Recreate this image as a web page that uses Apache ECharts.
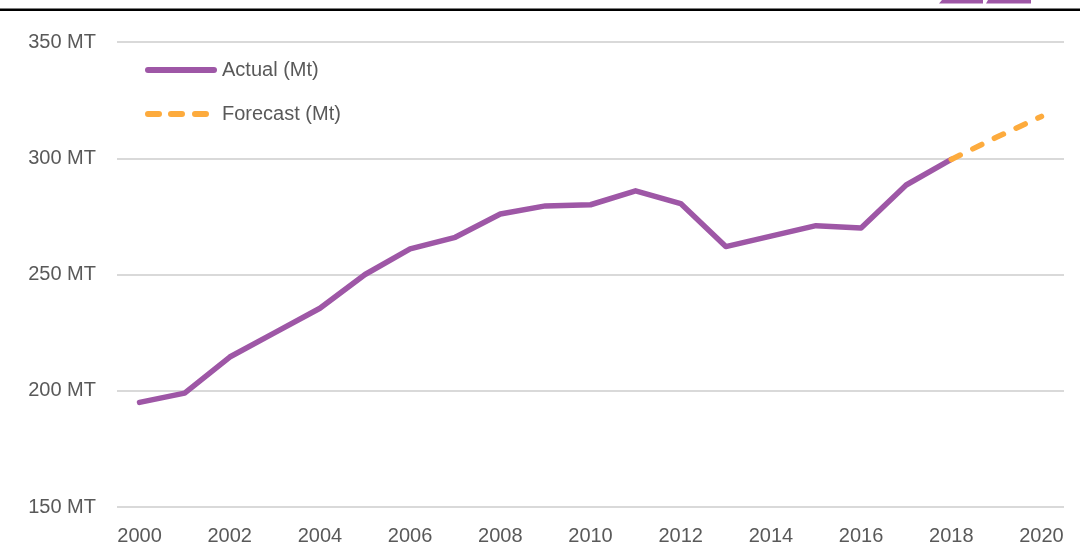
<!DOCTYPE html>
<html lang="en">
<head>
  <meta charset="UTF-8">
  <title>Actual vs Forecast (Mt)</title>
  <script src="https://cdn.jsdelivr.net/npm/echarts@6/dist/echarts.min.js"></script>
  <style>
    html, body { margin: 0; padding: 0; background: #fff; }
    #chart { width: 1080px; height: 552px; }
  </style>
</head>
<body>
  <div id="chart"></div>
  <script>
    // data
    const years = ['2000', '2001', '2002', '2003', '2004', '2005', '2006', '2007', '2008', '2009', '2010',
                   '2011', '2012', '2013', '2014', '2015', '2016', '2017', '2018', '2019', '2020'];
    const actual = [195, 199, 214.5, 225, 235.5, 250, 261, 266, 276, 279.5, 280,
                    286, 280.5, 262, 266.5, 271, 270, 288.5, 299.5, null, null];
    const forecast = [null, null, null, null, null, null, null, null, null, null, null,
                      null, null, null, null, null, null, null, 299.5, 309, 318];
    const yTicks = [150, 200, 250, 300, 350];

    const chart = echarts.init(document.getElementById('chart'));
    const textColor = '#595959';
    const font = '"Liberation Sans", Arial, sans-serif';

    // legend icons: solid bar and three rounded dashes
    const solidIcon = 'path://M3,0H69A3,3 0 0 1 69,6H3A3,3 0 0 1 3,0Z';
    const dashIcon = 'path://M3,0H14A3,3 0 0 1 14,6H3A3,3 0 0 1 3,0Z' +
                     'M26,0H37A3,3 0 0 1 37,6H26A3,3 0 0 1 26,0Z' +
                     'M50,0H61A3,3 0 0 1 61,6H50A3,3 0 0 1 50,0Z' +
                     'M72,3L72,3Z';

    chart.setOption({
      animation: false,
      textStyle: { fontFamily: font },
      grid: { left: 117, right: 16, top: 42, bottom: 45, containLabel: false },
      legend: {
        orient: 'vertical',
        left: 140, top: 55,
        itemWidth: 72, itemHeight: 6, itemGap: 24,
        textStyle: { fontSize: 20, color: textColor, fontFamily: font },
        data: [
          { name: 'Actual (Mt)', icon: solidIcon },
          { name: 'Forecast (Mt)', icon: dashIcon }
        ]
      },
      xAxis: {
        type: 'category',
        data: years,
        boundaryGap: true,
        axisLine: { show: false },
        axisTick: { show: false },
        axisLabel: {
          interval: 1, color: textColor, fontSize: 20, margin: 19, fontFamily: font
        }
      },
      yAxis: {
        type: 'value',
        min: yTicks[0], max: yTicks[yTicks.length - 1], interval: 50,
        axisLine: { show: false },
        axisTick: { show: false },
        axisLabel: {
          color: textColor, fontSize: 20, margin: 21, fontFamily: font,
          formatter: v => v + ' MT'
        },
        splitLine: { lineStyle: { color: '#d9d9d9', width: 2 } }
      },
      series: [
        {
          name: 'Actual (Mt)', type: 'line', data: actual,
          symbol: 'none', connectNulls: false,
          lineStyle: { color: '#9e57a6', width: 5.5, cap: 'round', join: 'round' },
          itemStyle: { color: '#9e57a6' }
        },
        {
          name: 'Forecast (Mt)', type: 'line', data: forecast,
          symbol: 'none',
          lineStyle: { color: '#fdab3d', width: 5.5, type: [10, 14], cap: 'round' },
          itemStyle: { color: '#fdab3d' }
        }
      ],
      graphic: [
        { type: 'rect', shape: { x: 0, y: 8.5, width: 1080, height: 2.5 }, style: { fill: '#000' }, silent: true },
        { type: 'polygon', shape: { points: [[942, 0], [983, 0], [983, 3.5], [939, 3.5]] }, style: { fill: '#9e57a6' }, silent: true },
        { type: 'polygon', shape: { points: [[988, 0], [1031, 0], [1031, 3.5], [986, 3.5]] }, style: { fill: '#9e57a6' }, silent: true }
      ]
    });
  </script>
</body>
</html>
